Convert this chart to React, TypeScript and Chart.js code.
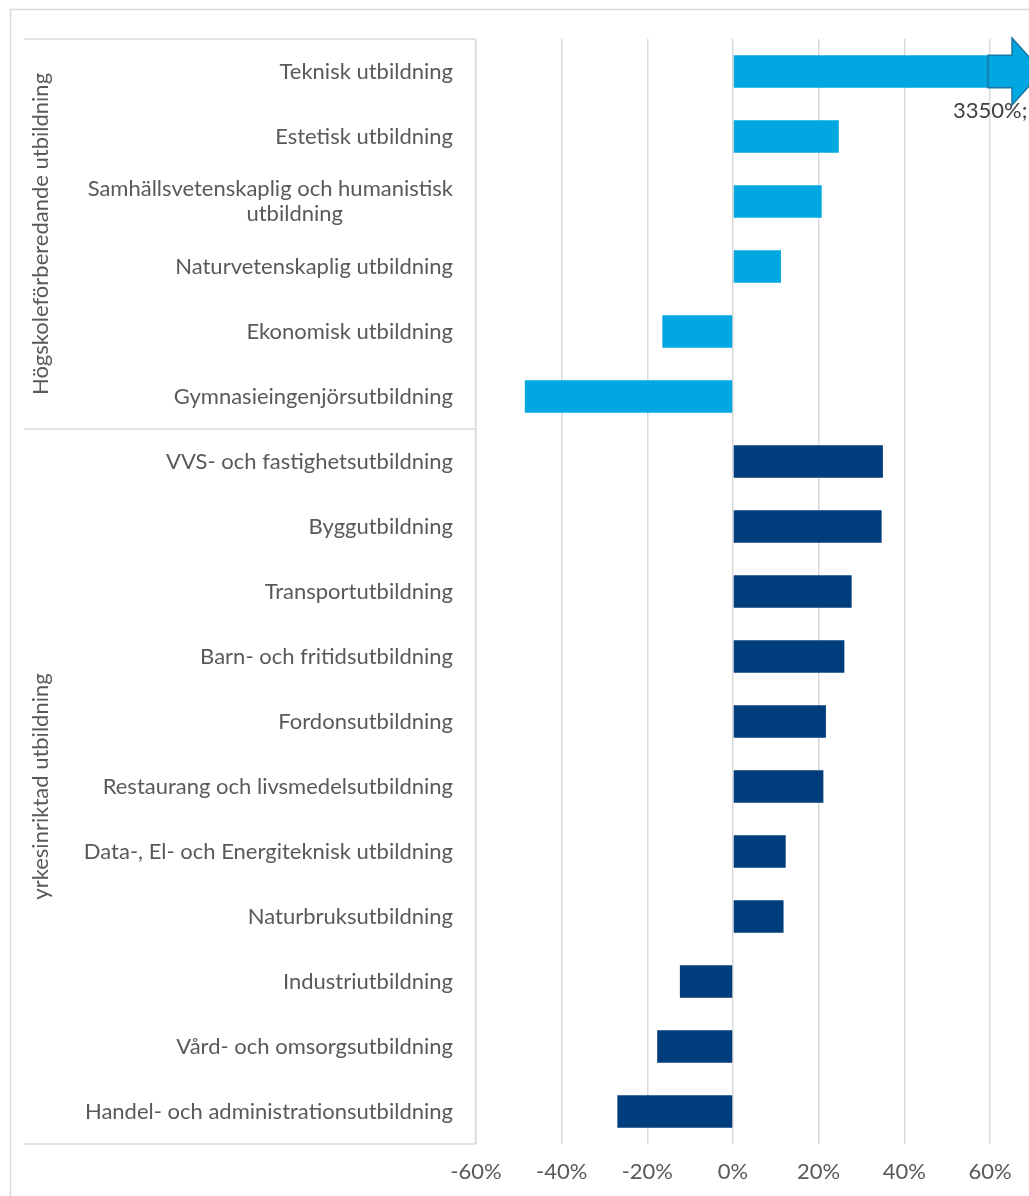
import React, { useEffect, useRef } from "react";
import { Chart, registerables } from "chart.js";

Chart.register(...registerables);

const pad = "\u2002".repeat(10);

const categories: (string | string[])[] = [
  "Teknisk utbildning",
  "Estetisk utbildning",
  ["Samhällsvetenskaplig och humanistisk", "utbildning" + pad],
  "Naturvetenskaplig utbildning",
  "Ekonomisk utbildning",
  "Gymnasieingenjörsutbildning",
  "VVS- och fastighetsutbildning",
  "Byggutbildning",
  "Transportutbildning",
  "Barn- och fritidsutbildning",
  "Fordonsutbildning",
  "Restaurang och livsmedelsutbildning",
  "Data-, El- och Energiteknisk utbildning",
  "Naturbruksutbildning",
  "Industriutbildning",
  "Vård- och omsorgsutbildning",
  "Handel- och administrationsutbildning",
];

// percent change
const values = [3350, 24.7, 20.7, 11.2, -16.5, -48.6, 35.0, 34.7, 27.7, 26.0, 21.7, 21.1, 12.3, 11.8, -12.4, -17.7, -27.0];

const groupNames = ["Högskoleförberedande utbildning", "yrkesinriktad utbildning"];
const groupSizes = [6, 11];
const groupColors = ["#00A7E1", "#003D7C"];

const xMin = -60;
const xMax = 60;
const xStep = 20;
const overflowLabel = "3350%;";

const FONT = "Lato, 'Open Sans', sans-serif";
const TEXT = "#595959";
const GRID = "#D9D9D9";
const FS = 22;

export default function App() {
  const ref = useRef<HTMLCanvasElement>(null);
  useEffect(() => {
    if (!ref.current) return;
    const colors: string[] = [];
    groupSizes.forEach((n, g) => {
      for (let i = 0; i < n; i++) colors.push(groupColors[g]);
    });

    const decor = {
      id: "decor",
      beforeDraw(chart: any) {
        const ctx = chart.ctx;
        ctx.save();
        ctx.strokeStyle = GRID;
        ctx.lineWidth = 1.5;
        ctx.strokeRect(10.5, 9.5, 1100, 1300);
        ctx.restore();
      },
      afterDatasetsDraw(chart: any) {
        const ctx = chart.ctx;
        const y = chart.scales.y;
        const x = chart.scales.x;
        const area = chart.chartArea;
        ctx.save();
        ctx.strokeStyle = GRID;
        ctx.lineWidth = 1.5;
        const left = 24;
        const boxRight = area.left - 0.5;
        const bounds: number[] = [area.top];
        let idx = 0;
        groupSizes.forEach((n) => {
          idx += n;
          if (idx < categories.length) {
            bounds.push((y.getPixelForValue(idx - 1) + y.getPixelForValue(idx)) / 2);
          }
        });
        bounds.push(area.bottom);
        ctx.beginPath();
        bounds.forEach((b) => {
          ctx.moveTo(left, b);
          ctx.lineTo(boxRight, b);
        });
        ctx.moveTo(boxRight, area.top);
        ctx.lineTo(boxRight, area.bottom);
        ctx.stroke();

        ctx.fillStyle = TEXT;
        ctx.font = `${FS}px ${FONT}`;
        ctx.textAlign = "center";
        ctx.textBaseline = "middle";
        groupNames.forEach((name, g) => {
          const cy = (bounds[g] + bounds[g + 1]) / 2;
          ctx.save();
          ctx.translate(41, cy);
          ctx.rotate(-Math.PI / 2);
          ctx.fillText(name, 0, 0);
          ctx.restore();
        });

        const cy = y.getPixelForValue(0);
        const meta = chart.getDatasetMeta(0);
        const bar = meta.data[0];
        const h = bar.height;
        const x0 = x.getPixelForValue(xMax) - 2;
        const xb = x0 + 24;
        const tip = xb + 30;
        const hh = h * 1.03;
        ctx.beginPath();
        ctx.moveTo(x0, cy - h / 2);
        ctx.lineTo(xb, cy - h / 2);
        ctx.lineTo(xb, cy - hh);
        ctx.lineTo(tip, cy);
        ctx.lineTo(xb, cy + hh);
        ctx.lineTo(xb, cy + h / 2);
        ctx.lineTo(x0, cy + h / 2);
        ctx.closePath();
        ctx.fillStyle = groupColors[0];
        ctx.fill();
        ctx.strokeStyle = "#1B77A3";
        ctx.lineWidth = 1.5;
        ctx.stroke();

        ctx.fillStyle = "#404040";
        ctx.font = `${FS}px ${FONT}`;
        ctx.textAlign = "left";
        ctx.textBaseline = "middle";
        ctx.fillText(overflowLabel, 953, cy + 39);
        ctx.restore();
      },
    };

    const chart = new Chart(ref.current, {
      type: "bar",
      data: {
        labels: categories,
        datasets: [
          {
            data: values,
            backgroundColor: colors,
            borderWidth: 0,
            categoryPercentage: 1,
            barPercentage: 0.5,
          },
        ],
      },
      options: {
        indexAxis: "y",
        responsive: false,
        animation: false,
        layout: { padding: { top: 39, right: 39, left: 0, bottom: 0 } },
        plugins: { legend: { display: false }, tooltip: { enabled: false } },
        scales: {
          x: {
            min: xMin,
            max: xMax,
            ticks: {
              stepSize: xStep,
              color: TEXT,
              font: { family: FONT, size: FS },
              padding: 15,
              callback: (v: any) => `${v}%`,
            },
            grid: { color: GRID, lineWidth: 1.5, drawTicks: false },
            border: { display: false },
            afterFit: (s: any) => {
              s.height = 52;
            },
          },
          y: {
            offset: true,
            ticks: {
              color: TEXT,
              font: { family: FONT, size: FS, lineHeight: 1.1 },
              padding: 23,
              autoSkip: false,
            },
            grid: { display: false, drawTicks: false },
            border: { display: false },
            afterFit: (s: any) => {
              s.width = 476;
            },
          },
        },
      },
      plugins: [decor],
    });
    return () => chart.destroy();
  }, []);
  return (
    <canvas
      ref={ref}
      width={1029}
      height={1196}
      style={{ position: "absolute", left: 0, top: 0, width: 1029, height: 1196 }}
    />
  );
}
